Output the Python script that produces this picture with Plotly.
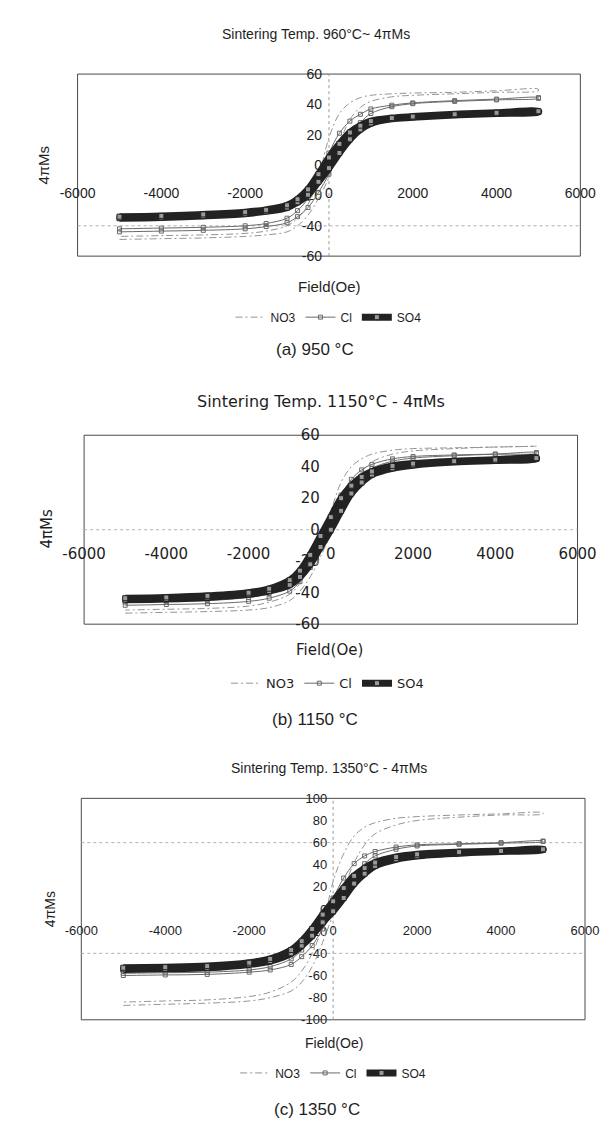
import plotly.graph_objects as go

W, HT = 610, 1131

# ---------------- data ----------------
H_FIELD = [-5000, -4000, -3000, -2000, -1500, -1000, -750, -500, -250, 0,
           250, 500, 750, 1000, 1500, 2000, 3000, 4000, 5000]
SERIES = ["NO3", "Cl", "SO4"]
X_TICKS = [-6000, -4000, -2000, 0, 2000, 4000, 6000]
Y_TICKS_60 = [-60, -40, -20, 0, 20, 40, 60]
Y_TICKS_100 = [-100, -80, -60, -40, -20, 0, 20, 40, 60, 80, 100]

# (a) 950 C : ascending (lower) and descending (upper) branches
a_NO3_asc = [-49, -48.5, -48, -47, -46, -44, -40, -33, -22, -8, 14, 30, 38, 42, 45, 46, 47, 48, 49]
a_NO3_desc = [-47, -46.5, -46, -45, -43.5, -40, -35, -26, -8, 18, 34, 41, 44.5, 46, 47, 47.5, 48, 49, 50]
a_Cl_asc = [-44, -43.5, -43, -42, -40.5, -38, -34, -28, -18, -6, 8, 20, 28, 34, 38.5, 40.5, 42, 43, 44]
a_Cl_desc = [-42, -41.5, -41, -40, -38.5, -35, -30, -22, -9, 8, 21, 29, 33.5, 37, 39.5, 41, 42.5, 43.5, 44.5]
a_SO4_asc = [-35, -34.5, -33.5, -32, -30.5, -28, -24.5, -19.5, -11, -2, 8, 17, 23.5, 27.5, 30.5, 31.5, 33, 34, 35]
a_SO4_desc = [-34, -33.5, -32.5, -31, -29.5, -26.5, -22.5, -16, -6, 5, 14, 21.5, 26, 29, 31, 32, 33.5, 34.5, 35.5]

# (b) 1150 C
b_NO3_asc = [-53, -52.5, -52, -51, -49.5, -45, -39, -30, -17, -3, 12, 27, 37, 43, 48, 50, 51.5, 52.5, 53]
b_NO3_desc = [-51, -50.5, -50, -48.5, -46, -41, -34, -22, -6, 12, 30, 40, 45, 48, 50.5, 51.5, 52, 52.5, 53]
b_Cl_asc = [-48, -47.5, -47, -45.5, -43.5, -39, -33, -24, -12, -1, 12, 25, 34, 39, 43.5, 45.5, 47, 48, 49]
b_Cl_desc = [-46, -45.5, -45, -43, -40.5, -35, -28, -18, -5, 8, 22, 32, 38, 41.5, 45, 46.5, 47.5, 48, 48.5]
b_SO4_asc = [-44.5, -44, -43, -41, -39, -35, -30, -22, -11, 0, 12, 23, 30, 35, 39, 41, 43, 44, 45]
b_SO4_desc = [-43.5, -43, -42, -40, -37.5, -32, -26, -16, -4, 8, 20, 28, 33.5, 37, 40.5, 42, 43.5, 44.5, 45.5]

# (c) 1350 C
c_NO3_asc = [-87, -86, -85, -83, -80, -74, -66, -52, -30, -5, 18, 42, 58, 68, 76, 80, 83, 85, 86]
c_NO3_desc = [-84, -83, -82, -79, -75, -66, -56, -40, -15, 25, 50, 66, 74, 78, 82, 83.5, 85, 86, 87]
c_Cl_asc = [-60, -59.5, -59, -57, -55, -50, -43, -33, -18, -3, 14, 30, 41, 48, 54, 57, 58.5, 59.5, 61]
c_Cl_desc = [-58, -57.5, -57, -55, -52, -45, -37, -25, -8, 10, 28, 41, 48, 52, 56, 58, 59, 60, 61.5]
c_SO4_asc = [-54.5, -54, -53, -50, -47, -40, -33, -24, -12, -2, 10, 23, 32, 39, 45, 48, 50.5, 52, 53.5]
c_SO4_desc = [-53, -52.5, -51.5, -48.5, -45, -37, -29, -18, -5, 7, 19, 30, 37, 42, 47, 49.5, 51.5, 52.5, 54]

DATA = {
    "a": {"NO3": (a_NO3_asc, a_NO3_desc), "Cl": (a_Cl_asc, a_Cl_desc), "SO4": (a_SO4_asc, a_SO4_desc)},
    "b": {"NO3": (b_NO3_asc, b_NO3_desc), "Cl": (b_Cl_asc, b_Cl_desc), "SO4": (b_SO4_asc, b_SO4_desc)},
    "c": {"NO3": (c_NO3_asc, c_NO3_desc), "Cl": (c_Cl_asc, c_Cl_desc), "SO4": (c_SO4_asc, c_SO4_desc)},
}

TITLES = {"a": "Sintering Temp. 960°C~ 4πMs",
          "b": "Sintering Temp. 1150°C - 4πMs",
          "c": "Sintering Temp. 1350°C - 4πMs"}
CAPTIONS = {"a": "(a) 950 °C", "b": "(b) 1150 °C", "c": "(c) 1350 °C"}
Y_TICKS = {"a": Y_TICKS_60, "b": Y_TICKS_60, "c": Y_TICKS_100}
GRID_LINES = {"a": [-40], "b": [0], "c": [60, -40]}

# ---------------- layout geometry (pixels) ----------------
GEOM = {
    "a": dict(box=(51, 590, 58, 243), title=(307, 17), xlab=179, field=(321, 274),
              legend=(320, 305), caption=(305, 338), ytitle=(15, 150), vline=True, ystand=7,
              font="Liberation Sans", tick=14, tsize=14, lsize=12, fsize=15),
    "b": dict(box=(58, 587, 425, 617), title=(312, 391), xlab=545, field=(321, 643),
              legend=(319, 677), caption=(305, 714), ytitle=(18, 520), vline=False, ystand=11,
              font="DejaVu Sans", tick=15, tsize=16, lsize=13, fsize=15),
    "c": dict(box=(55, 595, 794, 1019), title=(321, 763), xlab=929, field=(326, 1043),
              legend=(325, 1073), caption=(308, 1110), ytitle=(21, 907), vline=True, ystand=6,
              font="Liberation Sans", tick=13, tsize=14, lsize=12, fsize=14),
}

STYLE = {
    "NO3": dict(mode="lines", line=dict(color="#949494", width=1, dash="7px,3px,2px,3px", shape="spline")),
    "Cl": dict(mode="lines+markers", line=dict(color="#6a6a6a", width=1, shape="spline"),
               marker=dict(symbol="square-open", size=4, color="#6a6a6a")),
    "SO4": dict(mode="lines+markers", line=dict(color="#222222", width=7, shape="spline"),
                marker=dict(symbol="square", size=5, color="#9a9a9a", line=dict(color="#222", width=1))),
}

TXT = "#1e1e1e"


def px(x):
    return x / W


def py(y):
    return 1 - y / HT


fig = go.Figure()
shapes, annotations = [], []
layout = {}

for i, key in enumerate(["a", "b", "c"]):
    n = i + 1
    sfx = "" if n == 1 else str(n)
    g = GEOM[key]
    l, r, t, b = g["box"]
    yt = Y_TICKS[key]
    legname = "legend" if n == 1 else f"legend{n}"

    for s in SERIES:
        asc, desc = DATA[key][s]
        fig.add_trace(go.Scatter(
            x=H_FIELD + H_FIELD[::-1], y=asc + desc[::-1], name=s,
            xaxis="x" + sfx, yaxis="y" + sfx, legend=legname, **STYLE[s]))

    tf = dict(family=g["font"], size=g["tick"], color=TXT)
    layout["xaxis" + sfx] = dict(
        domain=[px(l), px(r)], range=[X_TICKS[0], X_TICKS[-1]], anchor="free",
        position=py(g["xlab"] - 10), tickvals=X_TICKS, ticktext=[str(v) for v in X_TICKS],
        showgrid=False, zeroline=False, showline=False, ticks="",
        tickfont=tf, layer="below traces", fixedrange=True)
    layout["yaxis" + sfx] = dict(
        domain=[py(b), py(t)], range=[yt[0], yt[-1]], anchor="free",
        position=px((l + r) / 2), tickvals=yt, ticktext=[str(v) for v in yt],
        showgrid=False, zeroline=False, showline=False, ticks="", ticklabelstandoff=g["ystand"],
        tickfont=tf, layer="below traces", fixedrange=True)

    # plot frame
    shapes.append(dict(type="rect", xref="paper", yref="paper", x0=px(l), x1=px(r),
                       y0=py(b), y1=py(t), line=dict(color="#4a4a4a", width=1), layer="below"))
    if g["vline"]:
        shapes.append(dict(type="line", xref="x" + sfx, yref=f"y{sfx} domain", x0=0, x1=0, y0=0, y1=1,
                           line=dict(color="#9a9a9a", width=1, dash="dot"), layer="below"))
    for gy in GRID_LINES[key]:
        shapes.append(dict(type="line", xref=f"x{sfx} domain", yref="y" + sfx, x0=0, x1=1, y0=gy, y1=gy,
                           line=dict(color="#b0b0b0", width=1, dash="dot"), layer="below"))

    annotations += [
        dict(text=TITLES[key], x=px(g["title"][0]), y=py(g["title"][1]), xref="paper", yref="paper",
             showarrow=False, xanchor="center", yanchor="middle",
             font=dict(family=g["font"], size=g["tsize"], color=TXT)),
        dict(text="Field(Oe)", x=px(g["field"][0]), y=py(g["field"][1]), xref="paper", yref="paper",
             showarrow=False, xanchor="center", yanchor="middle",
             font=dict(family=g["font"], size=g["fsize"], color=TXT)),
        dict(text="4πMs", x=px(g["ytitle"][0]), y=py(g["ytitle"][1]), xref="paper", yref="paper",
             showarrow=False, textangle=-90, xanchor="center", yanchor="middle",
             font=dict(family=g["font"], size=g["fsize"], color=TXT)),
        dict(text=CAPTIONS[key], x=px(g["caption"][0]), y=py(g["caption"][1]), xref="paper", yref="paper",
             showarrow=False, xanchor="center", yanchor="middle",
             font=dict(family="Liberation Sans", size=17, color=TXT)),
    ]

    layout[legname] = dict(x=px(g["legend"][0]), y=py(g["legend"][1]), xanchor="center", yanchor="middle",
                           orientation="h", bgcolor="rgba(0,0,0,0)", itemwidth=30,
                           font=dict(family=g["font"], size=g["lsize"], color=TXT))

fig.update_layout(
    width=W, height=HT, margin=dict(l=0, r=0, t=0, b=0),
    paper_bgcolor="white", plot_bgcolor="white",
    shapes=shapes, annotations=annotations, **layout)

fig.write_html("out.html")
